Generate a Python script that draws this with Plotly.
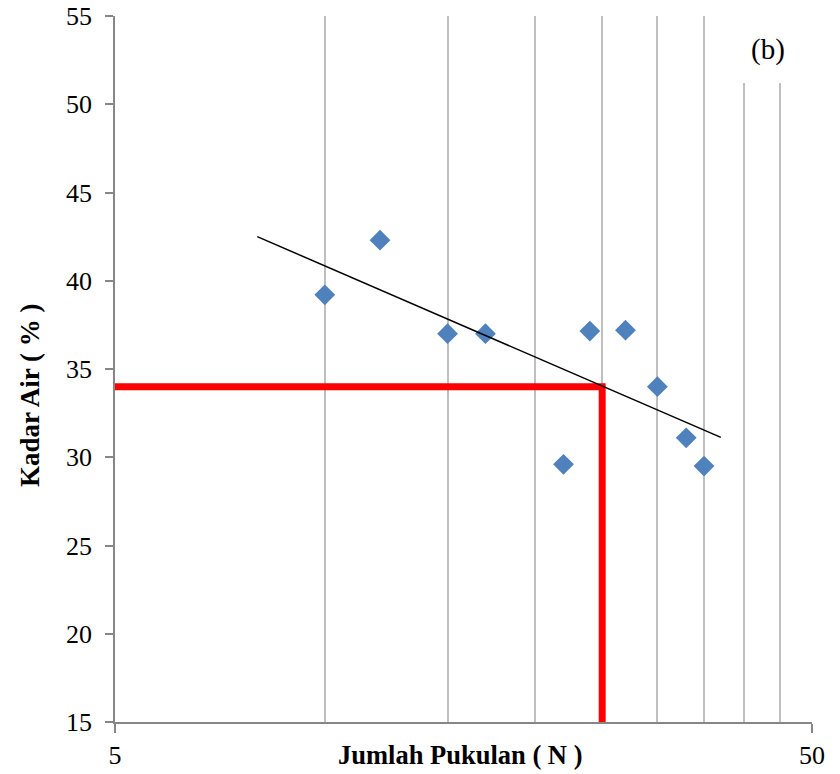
import numpy as np
import plotly.graph_objects as go

# ---- data ----
jumlah_pukulan = [10, 12, 15, 17, 22, 24, 27, 30, 33, 35]
kadar_air = [39.2, 42.3, 37.0, 37.0, 29.6, 37.15, 37.2, 34.0, 31.1, 29.5]
trend_range = [8, 37]
n_target = 25
kadar_air_target = 34
x_tick_vals = [5, 50]
x_minor_grid = [10, 15, 20, 25, 30, 35, 40, 45]
y_tick_vals = list(range(15, 56, 5))
x_range = [5, 50]
y_range = [15, 55]

# logarithmic trend line fitted to the points
b, a = np.polyfit(np.log10(jumlah_pukulan), kadar_air, 1)
trend_x = np.array(trend_range, dtype=float)
trend_y = a + b * np.log10(trend_x)

serif = "Liberation Serif, Times New Roman, serif"

fig = go.Figure()

# red reading lines (N = 25)
fig.add_trace(go.Scatter(
    x=[x_range[0], n_target, n_target],
    y=[kadar_air_target, kadar_air_target, y_range[0]],
    mode="lines", line=dict(color="#FF0000", width=7),
    hoverinfo="skip", showlegend=False))

fig.add_trace(go.Scatter(
    x=jumlah_pukulan, y=kadar_air, mode="markers",
    marker=dict(symbol="diamond", size=16, color="#4F81BD",
                line=dict(width=0)),
    showlegend=False))

fig.add_trace(go.Scatter(
    x=trend_x, y=trend_y, mode="lines",
    line=dict(color="black", width=1.5),
    showlegend=False))

fig.update_layout(
    width=840, height=774,
    margin=dict(l=115, r=28, t=16, b=52, autoexpand=False),
    paper_bgcolor="white", plot_bgcolor="white",
    font=dict(family=serif, size=26, color="black"),
    xaxis=dict(
        type="log", range=[np.log10(x_range[0]), np.log10(x_range[1])],
        tickvals=x_tick_vals, ticktext=[str(v) for v in x_tick_vals],
        ticks="outside", ticklen=9, tickcolor="#868686", tickwidth=1.5,
        showline=True, linecolor="#868686", linewidth=1.5,
        showgrid=True, gridcolor="#868686", gridwidth=1.5,
        minor=dict(tickvals=x_minor_grid, showgrid=True,
                   gridcolor="#BFBFBF", gridwidth=1.5, ticks=""),
        zeroline=False, automargin=False,
        tickfont=dict(family=serif, size=26),
    ),
    yaxis=dict(
        range=y_range, tickvals=y_tick_vals,
        ticks="outside", ticklen=8, tickcolor="#868686", tickwidth=1.5,
        showline=True, linecolor="#868686", linewidth=1.5,
        showgrid=False, zeroline=False, automargin=False,
        ticklabelstandoff=8,
        tickfont=dict(family=serif, size=26),
    ),
    shapes=[dict(type="rect", xref="paper", yref="paper",
                 x0=0.86, x1=0.97, y0=0.905, y1=1.0,
                 fillcolor="white", line=dict(width=0), layer="above")],
    annotations=[
        dict(text="(b)", xref="paper", yref="paper", x=0.937, y=0.953,
             xanchor="center", yanchor="middle", showarrow=False,
             font=dict(family=serif, size=29)),
        dict(text="<b>Jumlah Pukulan ( N )</b>", xref="paper", yref="paper",
             x=0.495, y=-0.047, xanchor="center", yanchor="middle",
             showarrow=False, font=dict(family=serif, size=26.5)),
        dict(text="<b>Kadar Air ( % )</b>", xref="paper", yref="paper",
             x=-0.122, y=0.463, xanchor="center", yanchor="middle",
             textangle=-90, showarrow=False,
             font=dict(family=serif, size=27)),
    ],
)

fig.write_html("out.html")
